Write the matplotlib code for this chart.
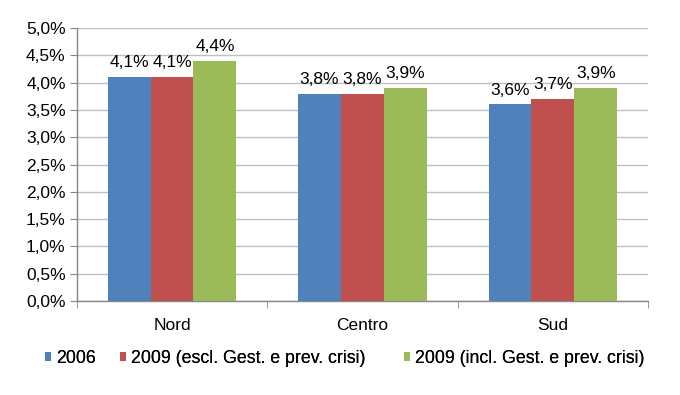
import matplotlib
matplotlib.use("Agg")
import matplotlib.pyplot as plt
import numpy as np
from matplotlib.ticker import FuncFormatter, FixedLocator

categories = ["Nord", "Centro", "Sud"]
series_names = ["2006", "2009 (escl. Gest. e prev. crisi)", "2009 (incl. Gest. e prev. crisi)"]
v2006 = [4.1, 3.8, 3.6]
v2009_escl = [4.1, 3.8, 3.7]
v2009_incl = [4.4, 3.9, 3.9]
colors = ["#4F81BD", "#C0504D", "#9BBB59"]

plt.rcParams['font.family'] = ['Liberation Sans', 'DejaVu Sans']

fig = plt.figure(figsize=(6.8, 3.95), dpi=100)
ax = fig.add_axes([0.113, 0.238, 0.84, 0.691])

x = np.arange(len(categories))
w = 0.225
series = [v2006, v2009_escl, v2009_incl]
handles = []
for i, (vals, c, name) in enumerate(zip(series, colors, series_names)):
    b = ax.bar(x + (i - 1) * w, vals, w, color=c, label=name, zorder=3)
    handles.append(b)
    for rect, v in zip(b, vals):
        ax.annotate(f"{v:.1f}%".replace('.', ','),
                    (rect.get_x() + rect.get_width() / 2, v),
                    xytext=(0, 5), textcoords='offset points',
                    ha='center', va='bottom', fontsize=12.5, color='#000000')

ax.set_xlim(-0.5, 2.5)
ax.set_ylim(0, 5.0)
ax.set_yticks(np.arange(0, 5.01, 0.5))
ax.yaxis.set_major_formatter(FuncFormatter(lambda v, p: f"{v:.1f}%".replace('.', ',')))
ax.set_xticks(x)
ax.set_xticklabels(categories)
ax.xaxis.set_minor_locator(FixedLocator([-0.5, 0.5, 1.5, 2.5]))
ax.tick_params(axis='x', which='major', length=0, labelsize=12.5, pad=12)
ax.tick_params(axis='x', which='minor', length=5, color='#868686')
ax.tick_params(axis='y', length=5, color='#868686', labelsize=12.5, pad=3)

ax.grid(axis='y', color='#BFBFBF', linewidth=1, zorder=0)
for s in ['top', 'right']:
    ax.spines[s].set_visible(False)
for s in ['left', 'bottom']:
    ax.spines[s].set_color('#868686')
    ax.spines[s].set_linewidth(1)

# legend entries placed individually (Excel-like spacing)
legend_x = [0.066, 0.176, 0.594]
for h, name, lx in zip(handles, series_names, legend_x):
    leg = fig.legend([h], [name], loc='center left', bbox_to_anchor=(lx, 0.093),
                     frameon=False, fontsize=12.8, handlelength=0.35, handleheight=0.35,
                     handletextpad=0.3, borderpad=0, borderaxespad=0)
    fig.add_artist(leg)

fig.savefig("out.png", dpi=100)
